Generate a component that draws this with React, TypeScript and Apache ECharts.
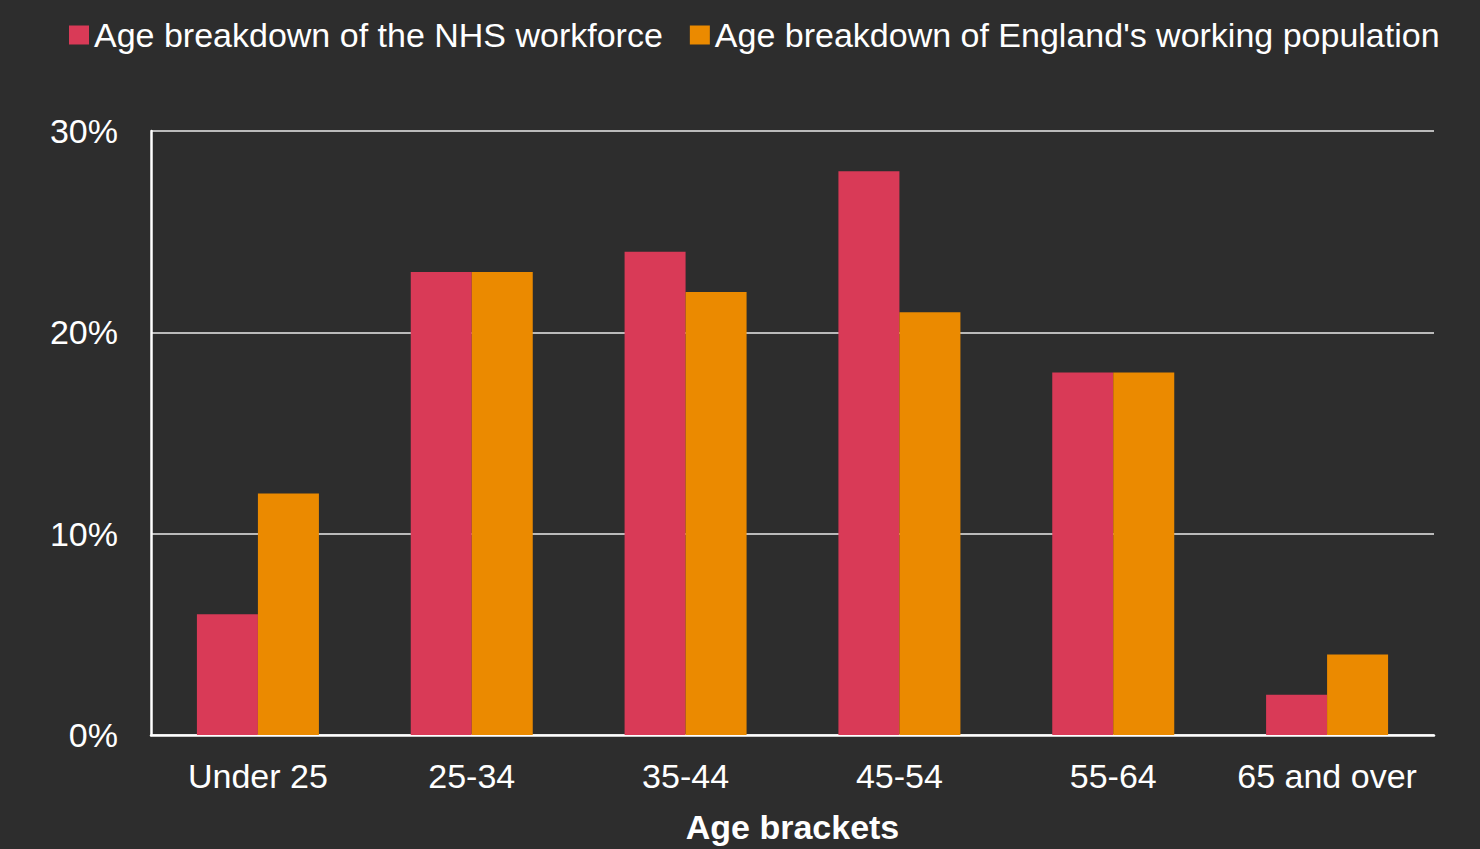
import React, { useEffect, useRef } from "react";
import * as echarts from "echarts";

const categories = ["Under 25", "25-34", "35-44", "45-54", "55-64", "65 and over"];
const nhsWorkforce = [6, 23, 24, 28, 18, 2];
const englandPopulation = [12, 23, 22, 21, 18, 4];
const seriesNames = [
  "Age breakdown of the NHS workforce",
  "Age breakdown of England's working population",
];

const FONT = "'Liberation Sans', Arial, Helvetica, sans-serif";

export default function App() {
  const ref = useRef<HTMLDivElement>(null);

  useEffect(() => {
    document.body.style.margin = "0";
    if (!ref.current) return;
    const chart = echarts.init(ref.current, null, { renderer: "svg" });
    chart.setOption({
      animation: false,
      backgroundColor: "#2d2d2d",
      textStyle: { fontFamily: FONT },
      legend: {
        top: 13,
        left: 64,
        itemWidth: 20,
        itemHeight: 19,
        itemGap: 27,
        icon: "rect",
        textStyle: { color: "#ffffff", fontSize: 34, fontFamily: FONT },
        data: seriesNames,
      },
      grid: { left: 151, width: 1283, top: 131, height: 610 },
      xAxis: {
        type: "category",
        data: categories,
        name: "Age brackets",
        nameLocation: "middle",
        nameGap: 75,
        nameTextStyle: { color: "#ffffff", fontSize: 34, fontWeight: "bold", fontFamily: FONT },
        axisLine: { show: true, lineStyle: { color: "#ffffff", width: 2.5 } },
        axisTick: { show: false },
        axisLabel: { color: "#ffffff", fontSize: 34, margin: 24, interval: 0, fontFamily: FONT },
      },
      yAxis: {
        type: "value",
        min: 0,
        max: 30,
        interval: 10,
        axisLine: { show: true, lineStyle: { color: "#ffffff", width: 2.5 } },
        axisTick: { show: false },
        axisLabel: {
          color: "#ffffff",
          fontSize: 34,
          margin: 33,
          fontFamily: FONT,
          formatter: "{value}%",
        },
        splitLine: { show: true, lineStyle: { color: "#bababa", width: 2 } },
      },
      series: [
        {
          name: seriesNames[0],
          type: "bar",
          data: nhsWorkforce,
          itemStyle: { color: "#d93a57" },
          barWidth: 61,
          barGap: "0%",
        },
        {
          name: seriesNames[1],
          type: "bar",
          data: englandPopulation,
          itemStyle: { color: "#eb8a00" },
          barWidth: 61,
          barGap: "0%",
        },
      ],
    });
    return () => chart.dispose();
  }, []);

  return <div ref={ref} style={{ width: 1480, height: 849 }} />;
}
